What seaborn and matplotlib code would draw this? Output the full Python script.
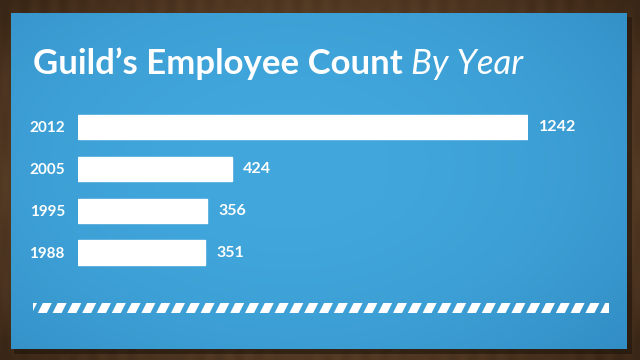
import matplotlib
matplotlib.use('Agg')
import matplotlib.pyplot as plt
import seaborn as sns
import numpy as np
import pandas as pd
from matplotlib.patches import Rectangle, Polygon

# ---- data ----
years = ['2012', '2005', '1995', '1988']
counts = [1242, 424, 356, 351]
title_main = "Guild\u2019s Employee Count"
title_sub = "By Year"

sns.set_theme(style='white')
plt.rcParams['font.family'] = ['Lato', 'DejaVu Sans']

W, H = 640, 360
fig = plt.figure(figsize=(6.4, 3.6), dpi=100)
fig.patch.set_facecolor('#4f3722')

# ---- background (wood frame + blue panel) ----
bg = fig.add_axes([0, 0, 1, 1])
bg.set_xlim(0, W)
bg.set_ylim(H, 0)
bg.axis('off')

yy, xx = np.mgrid[0:H, 0:W]
rw = np.sqrt(((xx - W / 2) / (W / 2)) ** 2 + ((yy - H / 2) / (H / 2)) ** 2) / np.sqrt(2)
grain = 0.07 * np.sin(xx / 3.1) * np.sin(yy / 17.0 + xx / 40.0)
wood_c = np.array([0x70, 0x52, 0x34]) / 255.0
wood_e = np.array([0x3a, 0x26, 0x16]) / 255.0
t = np.clip(rw ** 1.5 + grain, 0, 1)[..., None]
wood = wood_c * (1 - t) + wood_e * t
bg.imshow(wood, extent=(0, W, H, 0), zorder=0, aspect='auto')

# panel shadow
bg.add_patch(Rectangle((14, 17), 618, 337, facecolor='#1c120a', alpha=0.55,
                       edgecolor='none', zorder=1))

# blue panel with gradient
px0, px1, py0, py1 = 11, 627, 13, 349
ph, pw = py1 - py0, px1 - px0
gy, gx = np.mgrid[0:ph, 0:pw]
r = np.sqrt(((gx - pw * 0.45) / (pw * 0.6)) ** 2 + ((gy - ph * 0.45) / (ph * 0.7)) ** 2)
r = np.clip(r, 0, 1.3) / 1.3
c_in = np.array([0x41, 0xa7, 0xdc]) / 255.0
c_out = np.array([0x2f, 0x88, 0xc0]) / 255.0
tt = (r ** 2.2)[..., None]
panel = c_in * (1 - tt) + c_out * tt
bg.imshow(panel, extent=(px0, px1, py1, py0), zorder=2, aspect='auto')
bg.set_xlim(0, W)
bg.set_ylim(H, 0)

# striped rule
sx0, sx1, sy0, sy1 = 33, 609, 303, 313
clip = Rectangle((sx0, sy0), sx1 - sx0, sy1 - sy0, transform=bg.transData,
                 facecolor='none', edgecolor='none')
bg.add_patch(clip)
period, sw, slant = 14.8, 9.0, 5.0
x = sx0 - 10
while x < sx1 + 10:
    poly = Polygon([(x + slant, sy0), (x + slant + sw, sy0), (x + sw, sy1), (x, sy1)],
                   closed=True, facecolor='white', edgecolor='none', zorder=3)
    bg.add_patch(poly)
    poly.set_clip_path(clip)
    x += period

# ---- chart ----
ax = fig.add_axes([78 / W, 1 - 273.5 / H, 450 / W, 167.5 / H])
df = pd.DataFrame({'year': years, 'count': counts})
sns.barplot(data=df, x='count', y='year', orient='h', color='white',
            saturation=1, width=0.58, ax=ax, zorder=4)
ax.set_xlim(0, max(counts))
ax.set_ylim(3.5, -0.5)
ax.patch.set_visible(False)
for s in ax.spines.values():
    s.set_visible(False)
ax.set_xlabel('')
ax.set_ylabel('')
ax.set_xticks([])
ax.tick_params(axis='y', length=0, pad=9.5, labelsize=11, labelcolor='white')
for lab in ax.get_yticklabels():
    lab.set_fontweight('bold')
for cont in ax.containers:
    ax.bar_label(cont, labels=[str(v) for v in counts], padding=8,
                 color='white', fontsize=11.5, fontweight='bold')

# ---- title ----
t1 = fig.text(33 / W, 1 - 74 / H, title_main, color='white', fontsize=25,
              fontweight='bold', va='baseline', ha='left')
fig.canvas.draw()
bb = t1.get_window_extent()
fig.text((bb.x1 + 8) / W, 1 - 74 / H, title_sub, color='white', fontsize=25,
         fontstyle='italic', va='baseline', ha='left')

fig.savefig('out.png', dpi=100, facecolor=fig.get_facecolor())
